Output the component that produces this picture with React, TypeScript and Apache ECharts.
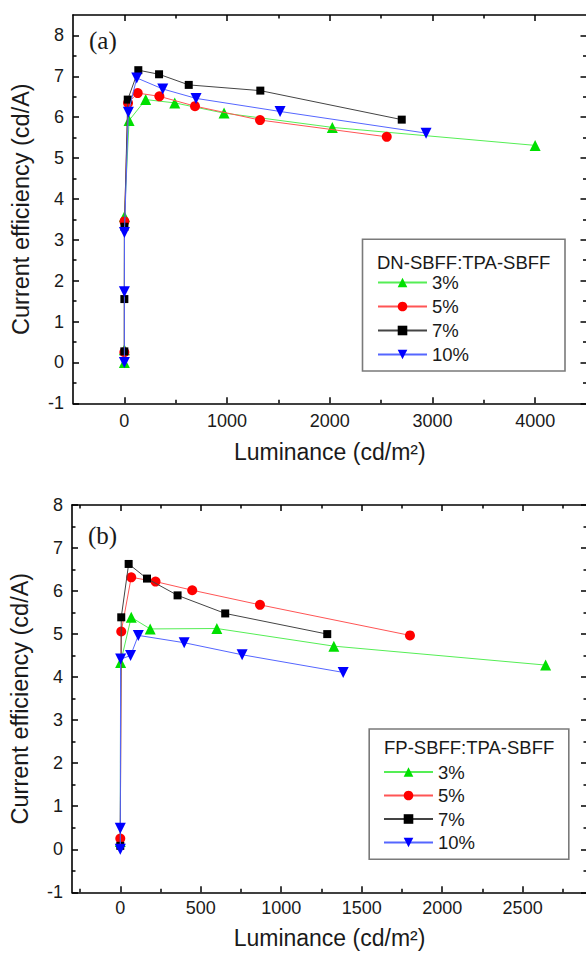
import React, { useEffect, useRef } from "react";
import * as echarts from "echarts";

// ---------- data ----------
const seriesNames = ["3%", "5%", "7%", "10%"];
const markerColors = ["#00e000", "#ff0000", "#000000", "#0000ff"];
const lineColors = ["#55ee55", "#ff5555", "#444444", "#5566ff"];
const symbols = ["triangle", "circle", "rect", "triangle"];
const symbolRotates = [0, 0, 0, 180];
const symbolSizes = [11, 10, 8, 11];

// Panel (a): DN-SBFF:TPA-SBFF
const lumA3 = [0, 0, 1, 46, 208, 491, 971, 2025, 4000];
const effA3 = [0.0, 0.31, 3.57, 5.92, 6.43, 6.35, 6.1, 5.75, 5.31];
const lumA5 = [0, 1, 36, 130, 341, 688, 1321, 2555];
const effA5 = [0.25, 3.45, 6.35, 6.59, 6.51, 6.27, 5.93, 5.52];
const lumA7 = [0, 0, 1, 33, 136, 338, 627, 1324, 2701];
const effA7 = [0.27, 1.55, 3.32, 6.43, 7.15, 7.05, 6.79, 6.65, 5.94];
const lumA10 = [0, 0, 1, 39, 121, 374, 698, 1516, 2938];
const effA10 = [0.0, 1.73, 3.18, 6.12, 6.96, 6.69, 6.46, 6.14, 5.61];

// Panel (b): FP-SBFF:TPA-SBFF
const lumB3 = [0, 2, 68, 186, 600, 1327, 2643];
const effB3 = [0.18, 4.34, 5.39, 5.12, 5.13, 4.72, 4.28];
const lumB5 = [0, 6, 68, 219, 447, 868, 1800];
const effB5 = [0.25, 5.06, 6.32, 6.22, 6.02, 5.68, 4.97];
const lumB7 = [0, 6, 52, 166, 356, 652, 1286];
const effB7 = [0.08, 5.39, 6.63, 6.29, 5.9, 5.48, 5.0];
const lumB10 = [0, 0, 2, 64, 112, 397, 757, 1385];
const effB10 = [0.0, 0.49, 4.42, 4.5, 4.97, 4.8, 4.52, 4.11];

// ticks
const xMajorA = [0, 1000, 2000, 3000, 4000];
const xMinorA = [500, 1500, 2500, 3500];
const xMajorB = [0, 500, 1000, 1500, 2000, 2500];
const xMinorB = [-250, 250, 750, 1250, 1750, 2250, 2750];
const yMajor = [-1, 0, 1, 2, 3, 4, 5, 6, 7, 8];
const yMinor = [-0.5, 0.5, 1.5, 2.5, 3.5, 4.5, 5.5, 6.5, 7.5];

const xTitle = "Luminance (cd/m²)";
const yTitle = "Current efficiency (cd/A)";
const legendTitleA = "DN-SBFF:TPA-SBFF";
const legendTitleB = "FP-SBFF:TPA-SBFF";

const SANS = "Liberation Sans";
const SERIF = "Liberation Serif";
const TXT = "#1a1a1a";

function zip(a: number[], b: number[]) {
  return a.map((v, i) => [v, b[i]]);
}

const plain = (v: number) => String(v);

function makeXAxes(gi: number, min: number, max: number, major: number[], minor: number[], labelMargin: number, nameGap: number) {
  const base = { type: "value", gridIndex: gi, min, max, splitLine: { show: false } };
  const line = { show: true, onZero: false, lineStyle: { color: "#000", width: 1.6 } };
  const noLine = { show: false, onZero: false };
  return [
    {
      ...base,
      position: "bottom",
      axisLine: line,
      axisTick: { show: true, inside: true, length: 6, customValues: major, lineStyle: { color: "#000", width: 1.5 } },
      axisLabel: { show: true, customValues: major, formatter: plain, margin: labelMargin, fontSize: 18, fontFamily: SANS, color: TXT },
      name: xTitle,
      nameLocation: "middle",
      nameGap,
      nameTextStyle: { fontSize: 23, fontFamily: SANS, color: TXT },
    },
    {
      ...base,
      position: "bottom",
      axisLine: noLine,
      axisTick: { show: true, inside: true, length: 3.5, customValues: minor, lineStyle: { color: "#000", width: 1.5 } },
      axisLabel: { show: false },
    },
    {
      ...base,
      position: "top",
      axisLine: line,
      axisTick: { show: true, inside: true, length: 6, customValues: major, lineStyle: { color: "#000", width: 1.5 } },
      axisLabel: { show: false },
    },
    {
      ...base,
      position: "top",
      axisLine: noLine,
      axisTick: { show: true, inside: true, length: 3.5, customValues: minor, lineStyle: { color: "#000", width: 1.5 } },
      axisLabel: { show: false },
    },
  ];
}

function makeYAxes(gi: number, min: number, max: number, nameGap: number) {
  const base = { type: "value", gridIndex: gi, min, max, splitLine: { show: false } };
  const line = { show: true, onZero: false, lineStyle: { color: "#000", width: 1.6 } };
  const noLine = { show: false, onZero: false };
  return [
    {
      ...base,
      position: "left",
      axisLine: line,
      axisTick: { show: true, inside: true, length: 6, customValues: yMajor, lineStyle: { color: "#000", width: 1.5 } },
      axisLabel: { show: true, customValues: yMajor, formatter: plain, margin: 9, fontSize: 18, fontFamily: SANS, color: TXT },
      name: yTitle,
      nameLocation: "middle",
      nameGap,
      nameRotate: 90,
      nameTextStyle: { fontSize: 23.5, fontFamily: SANS, color: TXT },
    },
    {
      ...base,
      position: "left",
      axisLine: noLine,
      axisTick: { show: true, inside: true, length: 3.5, customValues: yMinor, lineStyle: { color: "#000", width: 1.5 } },
      axisLabel: { show: false },
    },
    {
      ...base,
      position: "right",
      axisLine: line,
      axisTick: { show: true, inside: true, length: 6, customValues: yMajor, lineStyle: { color: "#000", width: 1.5 } },
      axisLabel: { show: false },
    },
    {
      ...base,
      position: "right",
      axisLine: noLine,
      axisTick: { show: true, inside: true, length: 3.5, customValues: yMinor, lineStyle: { color: "#000", width: 1.5 } },
      axisLabel: { show: false },
    },
  ];
}

function makeSeries(panel: number, lums: number[][], effs: number[][]) {
  return seriesNames.map((name, i) => ({
    name,
    type: "line",
    xAxisIndex: panel * 4,
    yAxisIndex: panel * 4,
    data: zip(lums[i], effs[i]),
    symbol: symbols[i],
    symbolRotate: symbolRotates[i],
    symbolSize: symbolSizes[i],
    itemStyle: { color: markerColors[i] },
    lineStyle: { color: lineColors[i], width: 1 },
    z: 2 + i,
  }));
}

function legendCfg(left: number, top: number, gap: number) {
  return {
    data: seriesNames,
    orient: "vertical",
    left,
    top,
    padding: 0,
    itemWidth: 49,
    itemHeight: 12,
    itemGap: gap,
    selectedMode: false,
    textStyle: { fontSize: 18.5, fontFamily: SANS, color: TXT, lineHeight: 18 },
  };
}

function textEl(x: number, y: number, text: string, size: number, family: string) {
  return {
    type: "text",
    x,
    y,
    style: { text, fontSize: size, fontFamily: family, fill: TXT, align: "left", verticalAlign: "middle" },
  };
}

export default function App() {
  const ref = useRef<HTMLDivElement>(null);
  useEffect(() => {
    if (!ref.current) return;
    const chart = echarts.init(ref.current, null, { renderer: "svg" });
    const option: any = {
      animation: false,
      backgroundColor: "#ffffff",
      grid: [
        { left: 73, top: 15, width: 513.5, height: 388.3, outerBoundsMode: "none" },
        { left: 72, top: 505, width: 515, height: 387.3, outerBoundsMode: "none" },
      ],
      xAxis: [
        ...makeXAxes(0, -500, 4500, xMajorA, xMinorA, 9, 37),
        ...makeXAxes(1, -300, 2900, xMajorB, xMinorB, 7, 34),
      ],
      yAxis: [...makeYAxes(0, -1, 8.5, 40), ...makeYAxes(1, -1, 8, 40)],
      legend: [legendCfg(377, 273, 5), legendCfg(383, 762.5, 4.5)],
      graphic: [
        { type: "rect", shape: { x: 362.5, y: 239.3, width: 202.5, height: 131.7 }, style: { fill: "none", stroke: "#7a7a7a", lineWidth: 1.6 } },
        textEl(377, 262, legendTitleA, 18.5, SANS),
        { type: "rect", shape: { x: 369.2, y: 729, width: 199.6, height: 130.3 }, style: { fill: "none", stroke: "#7a7a7a", lineWidth: 1.6 } },
        textEl(384, 747.5, legendTitleB, 18.5, SANS),
        textEl(89, 40, "(a)", 25, SERIF),
        textEl(88, 535, "(b)", 25, SERIF),
      ],
      series: [
        ...makeSeries(0, [lumA3, lumA5, lumA7, lumA10], [effA3, effA5, effA7, effA10]),
        ...makeSeries(1, [lumB3, lumB5, lumB7, lumB10], [effB3, effB5, effB7, effB10]),
      ],
    };
    chart.setOption(option);
    return () => chart.dispose();
  }, []);
  return (
    <div
      ref={ref}
      style={{ position: "absolute", left: 0, top: 0, width: 586, height: 953, background: "#fff" }}
    />
  );
}
